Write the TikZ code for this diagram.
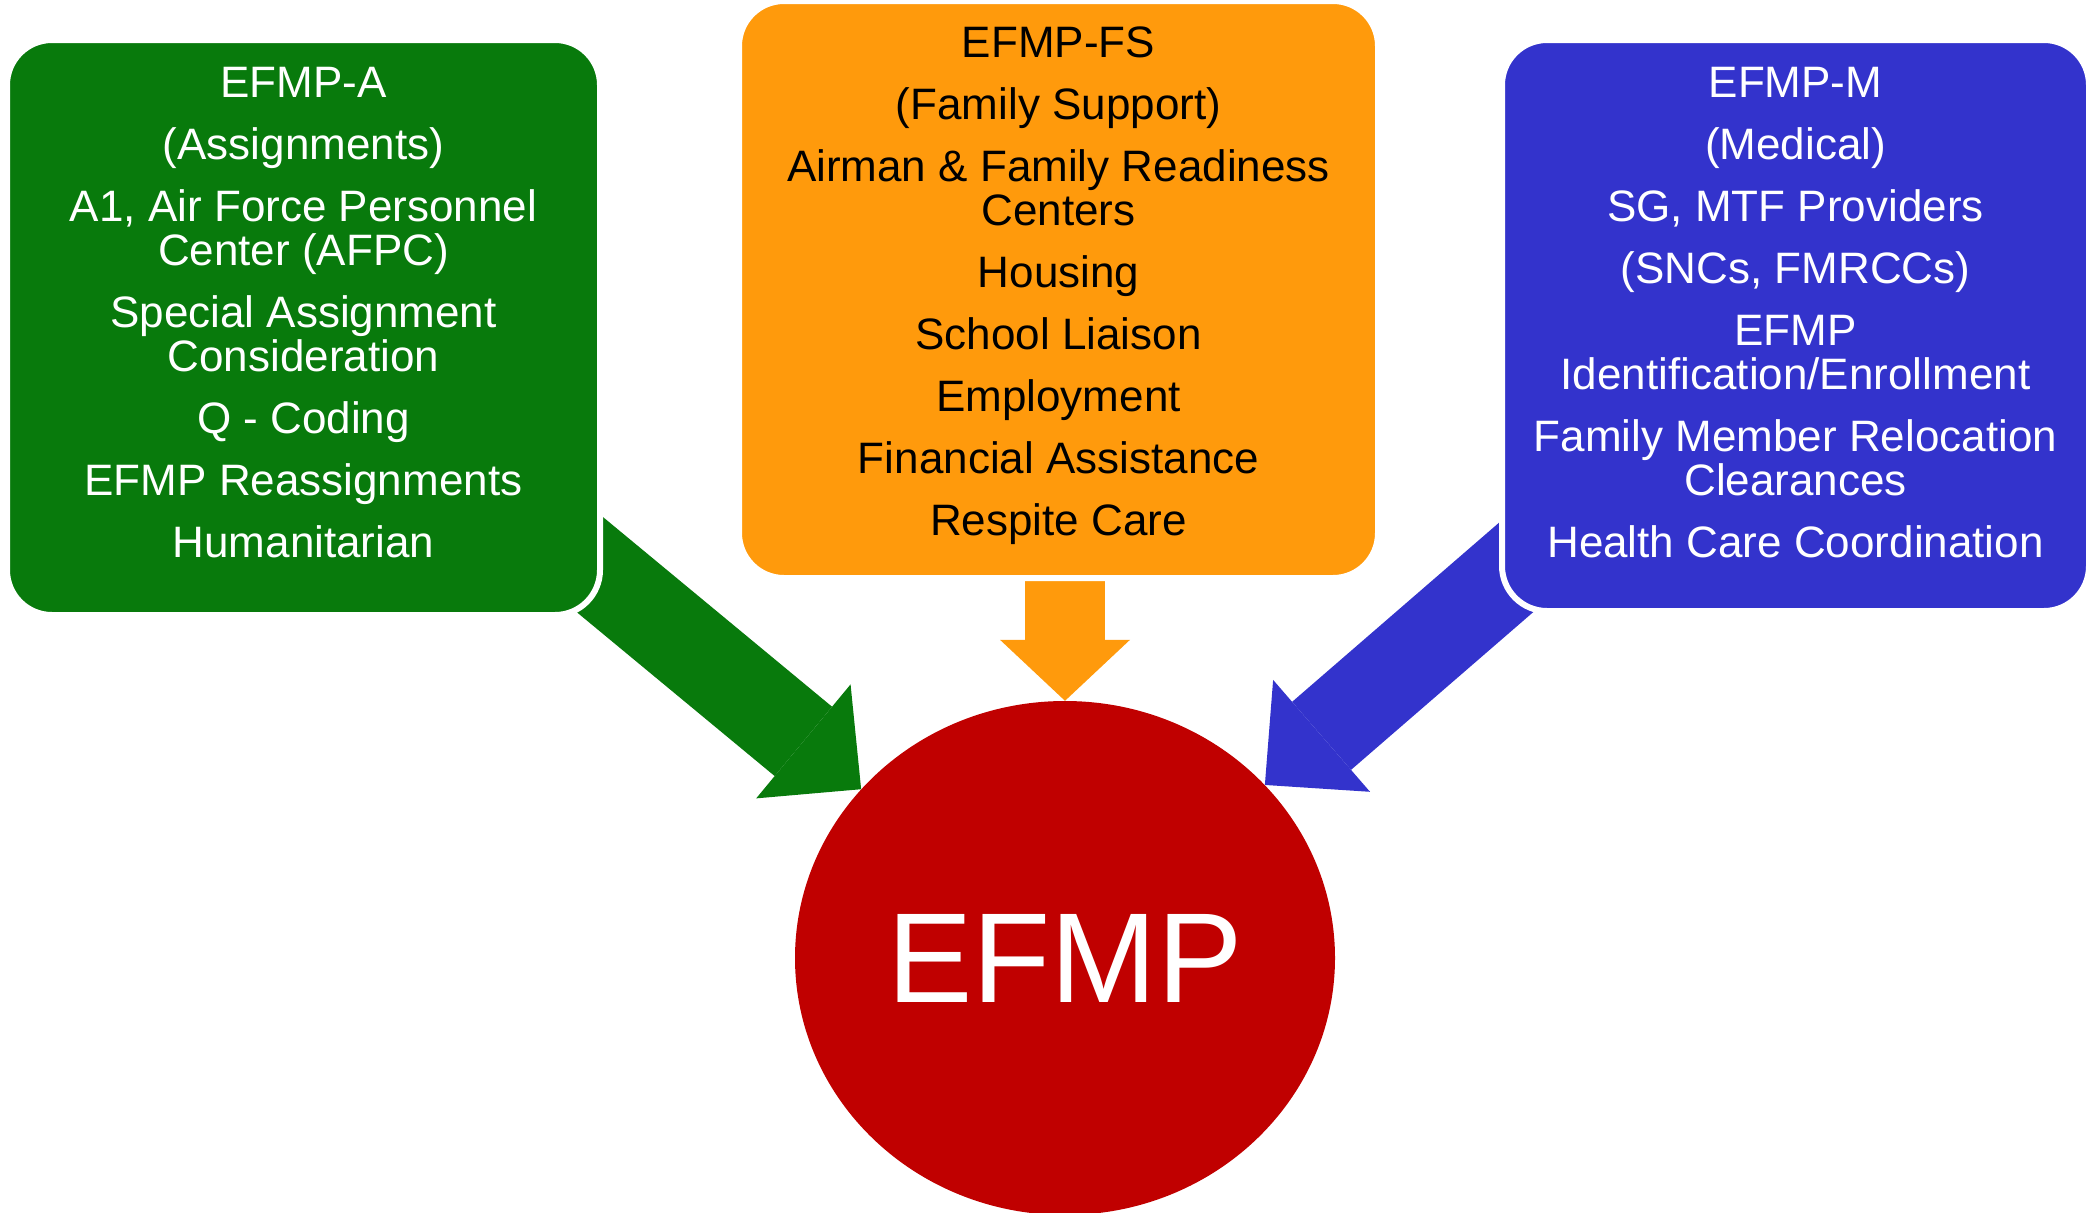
\documentclass[tikz,border=0pt]{standalone}
\usepackage{fontspec}
\setmainfont{Liberation Sans}
\usetikzlibrary{arrows.meta,positioning,shapes.geometric}
\definecolor{Grass}{HTML}{087A0C}
\definecolor{Amber}{HTML}{FF9A0C}
\definecolor{Royal}{HTML}{3333CC}
\definecolor{Ruby}{HTML}{C00000}
\pgfdeclarelayer{back}
\pgfsetlayers{back,main}

\tikzset{
  panel/.style={draw=white, line width=6pt, rounded corners=45pt,
    inner sep=0pt, outer sep=0pt},
  items/.style={align=center, inner sep=0pt,
    font=\fontsize{44}{44}\selectfont},
  fatarrow/.style={line width=90pt,
    -{Triangle[length=75pt,width=148pt,line width=0pt]}},
  slimarrow/.style={line width=80pt,
    -{Triangle[length=61pt,width=130pt,line width=0pt]}},
}

\begin{document}
\begin{tikzpicture}[x=1pt,y=-1pt]
  \useasboundingbox (0,0) rectangle (2089,1213);

  % boxes
  \node[panel, fill=Grass, minimum width=593pt, minimum height=575pt] (boxA) at (303.5,327.5) {};
  \node[panel, fill=Amber, minimum width=639pt, minimum height=577pt] (boxFS) at (1058.5,289.5) {};
  \node[panel, fill=Royal, minimum width=587pt, minimum height=571pt] (boxM) at (1795.5,325.5) {};
  \node[ellipse, fill=Ruby, minimum width=540pt, minimum height=514pt, inner sep=0pt,
    text=white, font=\fontsize{128}{128}\selectfont] (efmp) at (1065,958) {EFMP};

  % arrows run under the boxes
  \begin{pgfonlayer}{back}
    \draw[fatarrow, Grass] (boxA.center) -- (efmp);
    \draw[fatarrow, Royal] (boxM.center) -- (efmp);
    \draw[slimarrow, Amber] (boxFS.center -| efmp.center) -- (efmp);
  \end{pgfonlayer}

  % box texts
  \node[items, text=white, below=27pt of boxA.north] (listA) {EFMP-A\\[18pt]
    (Assignments)\\[18pt]
    A1, Air Force Personnel\\Center (AFPC)\\[18pt]
    Special Assignment\\Consideration\\[18pt]
    Q - Coding\\[18pt]
    EFMP Reassignments\\[18pt]
    Humanitarian};
  \node[items, text=black, below=26pt of boxFS.north] (listFS) {EFMP-FS\\[18pt]
    (Family Support)\\[18pt]
    Airman \& Family Readiness\\Centers\\[18pt]
    Housing\\[18pt]
    School Liaison\\[18pt]
    Employment\\[18pt]
    Financial Assistance\\[18pt]
    Respite Care};
  \node[items, text=white, below=27pt of boxM.north] (listM) {EFMP-M\\[18pt]
    (Medical)\\[18pt]
    SG, MTF Providers\\[18pt]
    (SNCs, FMRCCs)\\[18pt]
    EFMP\\Identification/Enrollment\\[18pt]
    Family Member Relocation\\Clearances\\[18pt]
    Health Care Coordination};
\end{tikzpicture}
\end{document}
